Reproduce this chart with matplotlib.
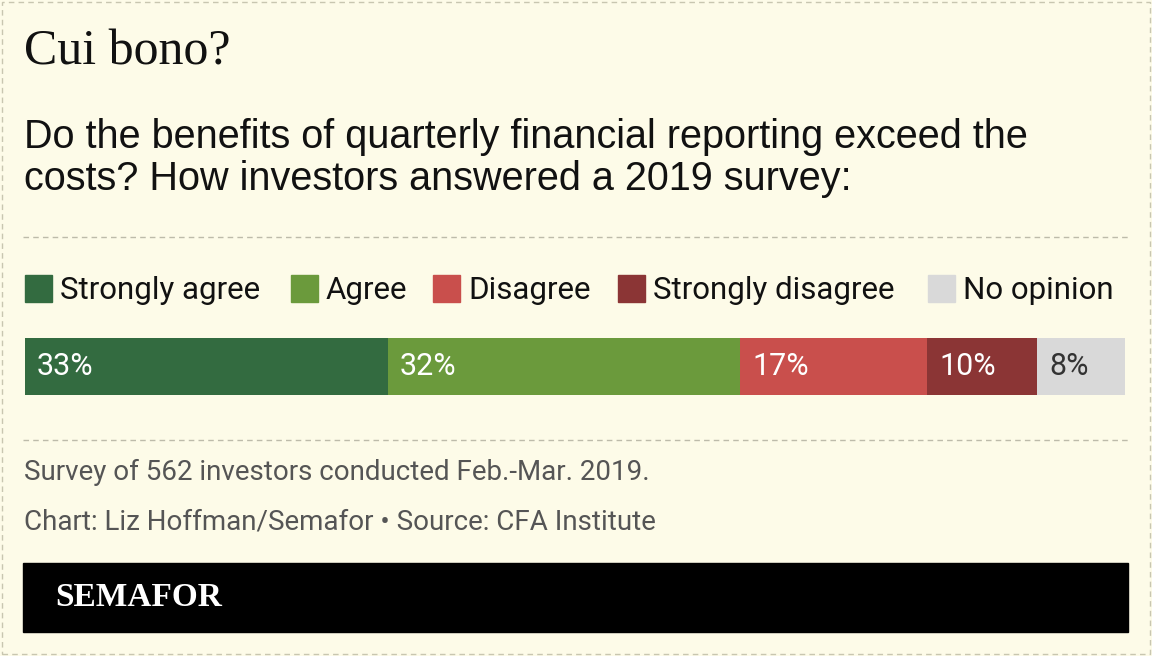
import matplotlib
matplotlib.use("Agg")
import matplotlib.pyplot as plt
from matplotlib.patches import Rectangle

# data
categories = ["Strongly agree", "Agree", "Disagree", "Strongly disagree", "No opinion"]
values = [33, 32, 17, 10, 8]
colors = ["#336b40", "#6b9a3c", "#c94f4c", "#8b3535", "#d9d9d9"]
label_colors = ["white", "white", "white", "white", "#333333"]

BG = "#fdfbe8"
W, H = 1152, 656

fig = plt.figure(figsize=(W / 100, H / 100), dpi=100, facecolor=BG)


def fx(px):
    return px / W


def fy(py):
    return 1 - py / H


# dashed outer border
fig.patches.append(Rectangle((fx(2), fy(654)), fx(1148), 652 / H, transform=fig.transFigure,
                             fill=False, ec="#c8c6b0", lw=1, ls=(0, (4, 3))))

fig.text(fx(24), fy(52), "Cui bono?", fontsize=36, family="Liberation Serif",
         va="center", color="#111111")
fig.text(fx(24), fy(158), "Do the benefits of quarterly financial reporting exceed the\n"
         "costs? How investors answered a 2019 survey:", fontsize=28.5,
         family="Liberation Sans", va="center", linespacing=1.15, color="#111111")

for y in (237, 440):
    fig.add_artist(plt.Line2D([fx(23), fx(1128)], [fy(y), fy(y)], transform=fig.transFigure,
                              color="#bdbbaa", lw=1, ls=(0, (4, 3))))

# legend
sq_x = [25, 291, 433, 618, 928]
for x, cat, c in zip(sq_x, categories, colors):
    fig.patches.append(Rectangle((fx(x), fy(302)), fx(27), 27 / H,
                                 transform=fig.transFigure, color=c))
    fig.text(fx(x + 35), fy(290), cat, fontsize=22.5, family="Roboto",
             va="center", color="#111111")

# bar
ax = fig.add_axes([fx(25), fy(395), fx(1100), 57 / H])
left = 0
total = sum(values)
for v, c, tc in zip(values, colors, label_colors):
    ax.barh(0, v, left=left, color=c, height=1)
    ax.text(left + 1.1, 0, f"{v}%", va="center", ha="left", fontsize=22,
            family="Roboto", color=tc)
    left += v
ax.set_xlim(0, total)
ax.set_ylim(-0.5, 0.5)
ax.axis("off")

fig.text(fx(24), fy(472), "Survey of 562 investors conducted Feb.-Mar. 2019.",
         fontsize=20, family="Roboto", va="center", color="#555555")
fig.text(fx(24), fy(522), "Chart: Liz Hoffman/Semafor \u2022 Source: CFA Institute",
         fontsize=20, family="Roboto", va="center", color="#555555")

fig.patches.append(Rectangle((fx(23), fy(632)), fx(1105), 69 / H,
                             transform=fig.transFigure, color="black"))
fig.text(fx(55), fy(598), "SEMAFOR", fontsize=24, family="Liberation Serif",
         fontweight="bold", va="center", color="white")

fig.savefig("out.png", dpi=100, facecolor=BG)
